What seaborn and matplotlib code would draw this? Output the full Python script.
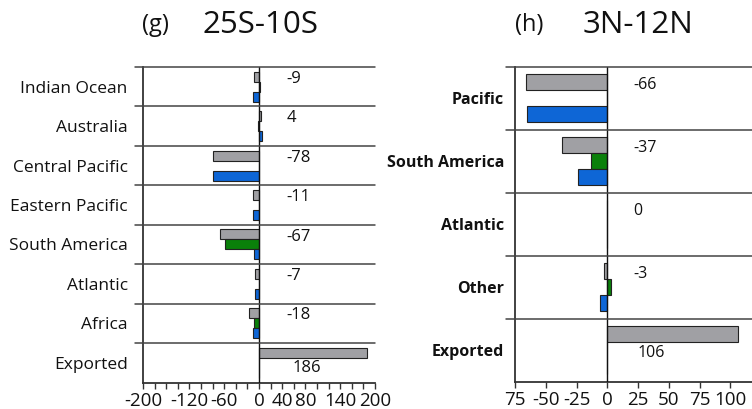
import matplotlib
matplotlib.use("Agg")
import matplotlib.pyplot as plt
import seaborn as sns
import pandas as pd

# ---- data ----
series = ["total", "green", "blue"]
colors = ["#a0a0a4", "#0a800a", "#0e66d6"]

regions_g = ["Indian Ocean", "Australia", "Central Pacific", "Eastern Pacific",
             "South America", "Atlantic", "Africa", "Exported"]
gray_g = [-9, 4, -79, -11, -67, -7, -18, 187]
green_g = [1, -2, 0, 0, -58, 0, -8, 0]
blue_g = [-11, 6, -79, -11, -9, -7, -11, 0]
labels_g = ["-9", "4", "-78", "-11", "-67", "-7", "-18", "186"]
ticks_g = list(range(-200, 201, 20))
ticklabels_g = {-200: "-200", -120: "-120", -60: "-60", 0: "0",
                40: "40", 80: "80", 140: "140", 200: "200"}

regions_h = ["Pacific", "South America", "Atlantic", "Other", "Exported"]
gray_h = [-66, -37, 0, -3, 106]
green_h = [0, -13, 0, 3, 0]
blue_h = [-65, -24, 0, -6, 0]
labels_h = ["-66", "-37", "0", "-3", "106"]
ticks_h = [-75, -50, -25, 0, 25, 50, 75, 100]
ticklabels_h = ["75", "-50", "-25", "0", "25", "50", "75", "100"]

sns.set_style("white")
plt.rcParams["font.family"] = ["Open Sans", "DejaVu Sans"]
TXT = "#111111"


def long_df(regions, gray, green, blue):
    rows = []
    for s, vals in zip(series, [gray, green, blue]):
        for r, v in zip(regions, vals):
            rows.append({"region": r, "series": s, "value": v})
    return pd.DataFrame(rows)


def draw_panel(ax, regions, gray, green, blue, labels, xlim, lab_x, lab_dy, exp_x, exp_dy,
               ylab_size, ylab_weight, ylab_pad, val_size):
    df = long_df(regions, gray, green, blue)
    sns.barplot(data=df, x="value", y="region", hue="series", order=regions,
                hue_order=series, palette=colors, orient="h", width=0.76,
                saturation=1, errorbar=None, edgecolor="#222222", linewidth=0.8,
                legend=False, ax=ax)
    n = len(regions)
    ax.set_xlim(*xlim)
    ax.set_ylim(n - 0.5, -0.5)
    ax.axvline(0, color="#111111", lw=1.0, zorder=3)
    for k in range(n):
        ax.axhline(k - 0.5, xmin=-0.035, xmax=1.0, color="#444444", lw=1.1,
                   clip_on=False, zorder=4)
    for k, lab in enumerate(labels):
        if regions[k] == "Exported":
            ax.text(exp_x, k + exp_dy, lab, ha="left", va="center", fontsize=val_size,
                    color=TXT)
        else:
            ax.text(lab_x, k + lab_dy, lab, ha="left", va="center", fontsize=val_size,
                    color=TXT)
    ax.set_xlabel("")
    ax.set_ylabel("")
    for side in ["top", "right"]:
        ax.spines[side].set_visible(False)
    for side in ["left", "bottom"]:
        ax.spines[side].set_linewidth(1.3)
        ax.spines[side].set_color("#333333")
    ax.tick_params(axis="x", direction="out", length=4, width=1, colors="#333333",
                   labelsize=13.5, labelcolor=TXT, pad=3, bottom=True)
    ax.tick_params(axis="y", length=0, pad=ylab_pad)
    for t in ax.get_yticklabels():
        t.set_fontsize(ylab_size)
        t.set_fontweight(ylab_weight)
        t.set_color(TXT)


fig = plt.figure(figsize=(7.52, 4.09), dpi=100)
ax_g = fig.add_axes([143 / 752, 1 - 382.5 / 409, 232 / 752, 315.5 / 409])
ax_h = fig.add_axes([515 / 752, 1 - 381.7 / 409, 246 / 752, 315 / 409])

draw_panel(ax_g, regions_g, gray_g, green_g, blue_g, labels_g, (-200, 200),
           48, -0.2, 57, 0.12, 12.5, "normal", 11, 12)
ax_g.set_xticks(ticks_g)
ax_g.set_xticklabels([ticklabels_g.get(t, "") for t in ticks_g])

draw_panel(ax_h, regions_h, gray_h, green_h, blue_h, labels_h, (-75, 125),
           21, -0.21, 25, 0.05, 11.5, "bold", 8, 11.5)
ax_h.set_xticks(ticks_h)
ax_h.set_xticklabels(ticklabels_h)

fig.text(142 / 752, 1 - 25 / 409, "(g)", fontsize=17, ha="left", va="center", color=TXT)
fig.text(261 / 752, 1 - 25 / 409, "25S-10S", fontsize=22.5, ha="center", va="center",
         color=TXT)
fig.text(515 / 752, 1 - 25 / 409, "(h)", fontsize=17, ha="left", va="center", color=TXT)
fig.text(638 / 752, 1 - 25 / 409, "3N-12N", fontsize=22.5, ha="center", va="center",
         color=TXT)

fig.savefig("out.png", dpi=100)
plt.close(fig)
